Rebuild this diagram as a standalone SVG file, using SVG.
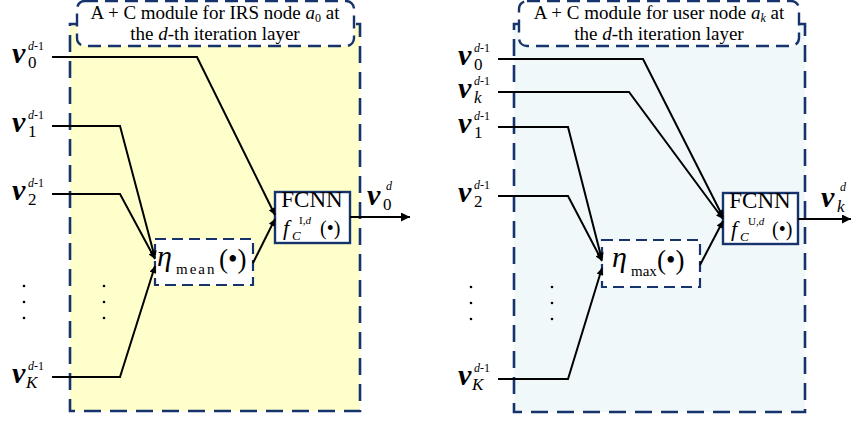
<svg xmlns="http://www.w3.org/2000/svg" width="851" height="421" viewBox="0 0 851 421">
<defs>
<style>
.panel{stroke:#16336B;stroke-width:2.6;stroke-dasharray:17 9;}
.title{fill:#fff;stroke:#16336B;stroke-width:2.4;stroke-dasharray:13 7;}
.eta{fill:#fff;stroke:#16336B;stroke-width:2.2;stroke-dasharray:11 6;}
.fcnn{fill:#fff;stroke:#16336B;stroke-width:2.4;}
.ln{fill:none;stroke:#000;stroke-width:2;}
text{font-family:"Liberation Serif","Times New Roman",serif;fill:#000;}
.tt{font-size:19px;text-anchor:middle;}
.v{font-size:30px;font-weight:bold;font-style:italic;}
.sub{font-size:17px;font-weight:normal;font-style:normal;}
.sup{font-size:12px;font-weight:normal;font-style:normal;}
.it{font-style:italic;}
.fc{font-size:23px;text-anchor:middle;}
.dot{fill:#000;}
</style>
<marker id="ah" viewBox="0 0 10 10" refX="10" refY="5" markerWidth="8" markerHeight="7" markerUnits="userSpaceOnUse" orient="auto"><path d="M0,0 L10,5 L0,10 z" fill="#000"/></marker>
<marker id="ahb" viewBox="0 0 10 10" refX="10" refY="5" markerWidth="12" markerHeight="9" markerUnits="userSpaceOnUse" orient="auto"><path d="M0,0 L10,5 L0,10 z" fill="#000"/></marker>
</defs>

<!-- Left module -->
<g id="panel-irs">
<rect class="panel" x="70" y="24" width="290" height="387" fill="#FFFFCC"/>
</g>
<g id="title-irs">
<rect class="title" x="77" y="1" width="277" height="45" rx="8"/>
<text class="tt" x="215" y="19">A + C module for IRS node <tspan class="it">a</tspan><tspan font-size="12" dy="3">0</tspan><tspan dy="-3"> at</tspan></text>
<text class="tt" x="215" y="40">the <tspan class="it">d</tspan>-th iteration layer</text>
</g>
<g id="eta-mean">
<rect class="eta" x="155" y="239" width="98" height="46"/>
<text font-size="30"><tspan class="it" x="157" y="266">η</tspan><tspan x="176" y="274" font-size="15" letter-spacing="2">mean</tspan><tspan x="219" y="268" font-size="27">(•)</tspan></text>
</g>
<g id="fcnn-irs">
<rect class="fcnn" x="275" y="192" width="75" height="51"/>
<text class="fc" x="312" y="207">FCNN</text>
<text font-size="22"><tspan class="it" x="283" y="235">f</tspan><tspan class="it" x="292" y="240" font-size="13">C</tspan><tspan x="299" y="224" font-size="11">I,<tspan class="it">d</tspan></tspan><tspan x="320" y="235" font-size="20">(•)</tspan></text>
</g>
<g id="in-irs-0"><text class="v"><tspan x="12" y="63">v</tspan><tspan class="sub" x="28" y="68">0</tspan><tspan class="sup" x="28" y="50"><tspan class="it">d</tspan>-1</tspan></text></g>
<g id="in-irs-1"><text class="v"><tspan x="12" y="132">v</tspan><tspan class="sub" x="28" y="137">1</tspan><tspan class="sup" x="28" y="119"><tspan class="it">d</tspan>-1</tspan></text></g>
<g id="in-irs-2"><text class="v"><tspan x="12" y="200">v</tspan><tspan class="sub" x="28" y="205">2</tspan><tspan class="sup" x="28" y="187"><tspan class="it">d</tspan>-1</tspan></text></g>
<g id="in-irs-K"><text class="v"><tspan x="12" y="383">v</tspan><tspan class="sub it" x="26" y="388">K</tspan><tspan class="sup" x="28" y="370"><tspan class="it">d</tspan>-1</tspan></text></g>
<g id="out-irs"><text class="v"><tspan x="367" y="205">v</tspan><tspan class="sub" x="383" y="210">0</tspan><tspan class="sup it" x="386" y="190">d</tspan></text></g>
<g id="dots-irs">
<circle class="dot" cx="24" cy="286" r="1.3"/><circle class="dot" cx="24" cy="302" r="1.3"/><circle class="dot" cx="24" cy="318" r="1.3"/>
<circle class="dot" cx="104" cy="286" r="1.3"/><circle class="dot" cx="104" cy="302" r="1.3"/><circle class="dot" cx="104" cy="318" r="1.3"/>
</g>

<!-- Right module -->
<g id="panel-user">
<rect class="panel" x="514" y="24" width="291" height="388" fill="#F0F8FA"/>
</g>
<g id="title-user">
<rect class="title" x="519" y="1" width="280" height="45" rx="8"/>
<text class="tt" x="659" y="19">A + C module for user node <tspan class="it">a</tspan><tspan class="it" font-size="12" dy="3">k</tspan><tspan dy="-3"> at</tspan></text>
<text class="tt" x="659" y="40">the <tspan class="it">d</tspan>-th iteration layer</text>
</g>
<g id="eta-max">
<rect class="eta" x="602" y="240" width="98" height="47"/>
<text font-size="30"><tspan class="it" x="612" y="267">η</tspan><tspan x="631" y="276" font-size="15">max</tspan><tspan x="657" y="269" font-size="27">(•)</tspan></text>
</g>
<g id="fcnn-user">
<rect class="fcnn" x="723" y="193" width="75" height="51"/>
<text class="fc" x="760" y="208">FCNN</text>
<text font-size="22"><tspan class="it" x="731" y="236">f</tspan><tspan class="it" x="740" y="241" font-size="13">C</tspan><tspan x="748" y="225" font-size="11">U,<tspan class="it">d</tspan></tspan><tspan x="772" y="236" font-size="20">(•)</tspan></text>
</g>
<g id="in-user-0"><text class="v"><tspan x="458" y="65">v</tspan><tspan class="sub" x="474" y="70">0</tspan><tspan class="sup" x="474" y="52"><tspan class="it">d</tspan>-1</tspan></text></g>
<g id="in-user-k"><text class="v"><tspan x="458" y="98">v</tspan><tspan class="sub it" x="474" y="103">k</tspan><tspan class="sup" x="474" y="85"><tspan class="it">d</tspan>-1</tspan></text></g>
<g id="in-user-1"><text class="v"><tspan x="458" y="133">v</tspan><tspan class="sub" x="474" y="138">1</tspan><tspan class="sup" x="474" y="120"><tspan class="it">d</tspan>-1</tspan></text></g>
<g id="in-user-2"><text class="v"><tspan x="458" y="202">v</tspan><tspan class="sub" x="474" y="207">2</tspan><tspan class="sup" x="474" y="189"><tspan class="it">d</tspan>-1</tspan></text></g>
<g id="in-user-K"><text class="v"><tspan x="458" y="385">v</tspan><tspan class="sub it" x="472" y="390">K</tspan><tspan class="sup" x="474" y="372"><tspan class="it">d</tspan>-1</tspan></text></g>
<g id="out-user"><text class="v"><tspan x="821" y="207">v</tspan><tspan class="sub it" x="837" y="212">k</tspan><tspan class="sup it" x="840" y="191">d</tspan></text></g>
<g id="dots-user">
<circle class="dot" cx="471" cy="287" r="1.3"/><circle class="dot" cx="471" cy="303" r="1.3"/><circle class="dot" cx="471" cy="319" r="1.3"/>
<circle class="dot" cx="552" cy="287" r="1.3"/><circle class="dot" cx="552" cy="303" r="1.3"/><circle class="dot" cx="552" cy="319" r="1.3"/>
</g>

<!-- Connectors -->
<g id="connectors">
<polyline class="ln" points="52,57 197,57 275,215" marker-end="url(#ah)"/>
<polyline class="ln" points="52,126 120,126 155,258" marker-end="url(#ah)"/>
<polyline class="ln" points="52,194 120,194 155,259" marker-end="url(#ah)"/>
<polyline class="ln" points="52,377 120,377 155,266" marker-end="url(#ah)"/>
<polyline class="ln" points="253,263 275,219" marker-end="url(#ah)"/>
<polyline class="ln" points="350,217 410,217" marker-end="url(#ahb)"/>

<polyline class="ln" points="498,59 643,59 723,217" marker-end="url(#ah)"/>
<polyline class="ln" points="498,92 629,92 723,219" marker-end="url(#ah)"/>
<polyline class="ln" points="498,127 568,127 602,260" marker-end="url(#ah)"/>
<polyline class="ln" points="498,196 568,196 602,261" marker-end="url(#ah)"/>
<polyline class="ln" points="498,379 568,379 602,268" marker-end="url(#ah)"/>
<polyline class="ln" points="700,265 723,221" marker-end="url(#ah)"/>
<polyline class="ln" points="798,219 851,219" marker-end="url(#ahb)"/>
</g>
</svg>
